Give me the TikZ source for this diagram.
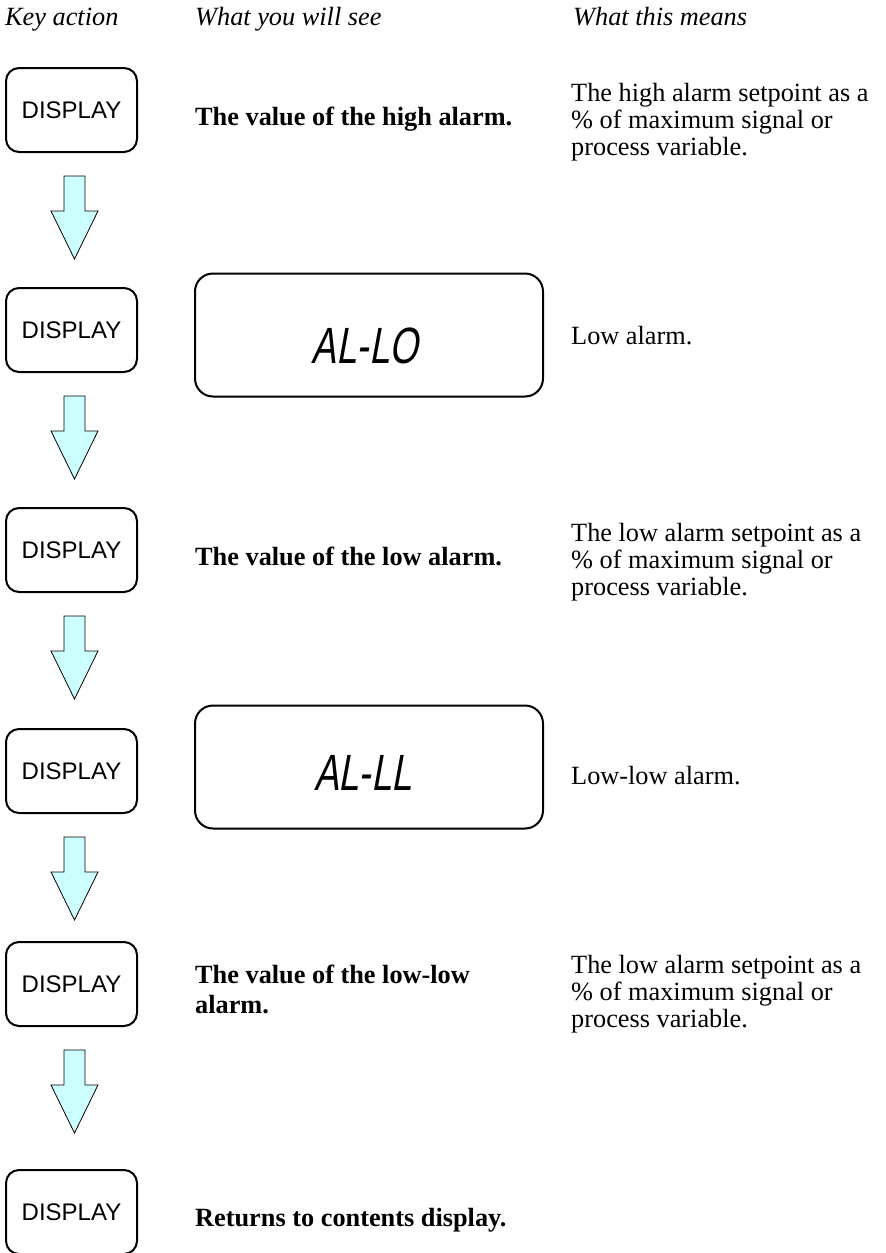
\documentclass[tikz,border=0pt]{standalone}
\usepackage{fontspec}
\setmainfont{Liberation Serif}
\newfontfamily\arialf{Liberation Sans}
\newfontfamily\lcdf[FakeSlant=0.18,FakeStretch=0.72]{Liberation Sans}
\usetikzlibrary{calc}
\definecolor{arrowfill}{HTML}{CCFFFF}
\begin{document}
\begin{tikzpicture}[x=1pt,y=-1pt,
 keybtn/.style={draw=black, line width=2pt, rounded corners=13pt, minimum width=131pt, minimum height=84pt, inner sep=0pt, font=\arialf\fontsize{24}{26}\selectfont},
 lcdbox/.style={draw=black, line width=2pt, rounded corners=18pt, minimum width=348pt, minimum height=123pt, inner sep=0pt},
 lcdtext/.style={inner sep=0pt, font=\lcdf\fontsize{51}{51}\selectfont},
 hdr/.style={anchor=base west, inner sep=0pt, font=\fontsize{26.3}{27}\selectfont\itshape},
 boldtxt/.style={anchor=base west, inner sep=0pt, align=left, font=\fontsize{26.3}{30}\selectfont\bfseries},
 desc/.style={anchor=base west, inner sep=0pt, align=left, font=\fontsize{26.3}{27}\selectfont},
 blockarr/.style={draw=black, line width=0.8pt, fill=arrowfill, line join=miter}
]
\useasboundingbox (0,0) rectangle (886,1253);
\clip (0,0) rectangle (886,1253);

% headers
\node[hdr] (h1) at (5,25) {Key action};
\node[hdr] (h2) at (195,25) {What you will see};
\node[hdr] (h3) at (573,25) {What this means};

% key buttons
\node[keybtn] (b1) at (71.5,110) {DISPLAY};
\node[keybtn] (b2) at (71.5,330) {DISPLAY};
\node[keybtn] (b3) at (71.5,550) {DISPLAY};
\node[keybtn] (b4) at (71.5,771) {DISPLAY};
\node[keybtn] (b5) at (71.5,984) {DISPLAY};
\node[keybtn] (b6) at (71.5,1212) {DISPLAY};

% block arrows between buttons
\foreach \i in {1,...,5}{
  \draw[blockarr] ([shift={(-7.5,23)}]b\i.south) -- ++(21,0) -- ++(0,35) -- ++(13,0)
     -- ++(-23.5,48) -- ++(-23.5,-48) -- ++(13,0) -- cycle;
}

% LCD displays
\node[lcdbox] (d2) at (369,335) {};
\node[lcdtext] (d2t) at (365,346) {AL-LO};
\node[lcdbox] (d4) at (369,767) {};
\node[lcdtext] (d4t) at (363,773) {AL-LL};

% what you will see
\node[boldtxt] (t1) at (195,125) {The value of the high alarm.};
\node[boldtxt] (t3) at (195,565) {The value of the low alarm.};
\node[boldtxt] (t5) at (195,1013) {The value of the low-low\\alarm.};
\node[boldtxt] (t6) at (195,1226) {Returns to contents display.};

% what this means
\node[desc] (m1) at (571,155) {The high alarm setpoint as a\\\% of maximum signal or\\process variable.};
\node[desc] (m2) at (571,344) {Low alarm.};
\node[desc] (m3) at (571,595) {The low alarm setpoint as a\\\% of maximum signal or\\process variable.};
\node[desc] (m4) at (571,784) {Low-low alarm.};
\node[desc] (m5) at (571,1027) {The low alarm setpoint as a\\\% of maximum signal or\\process variable.};
\end{tikzpicture}
\end{document}
